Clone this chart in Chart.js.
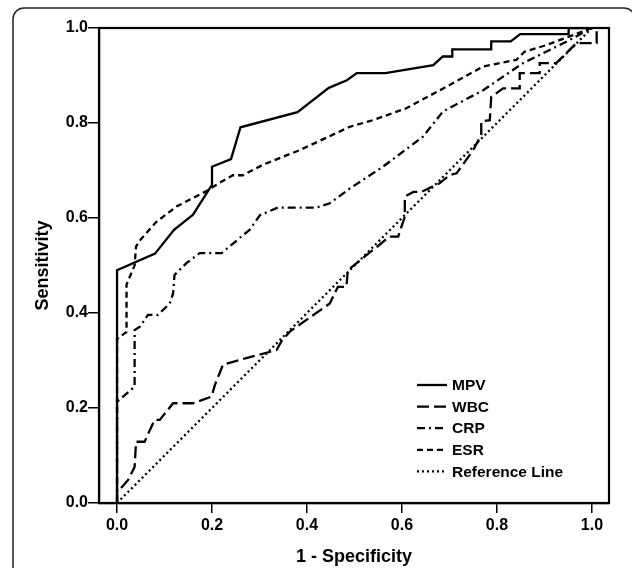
<!DOCTYPE html>
<html>
<head>
<meta charset="utf-8">
<title>ROC curves</title>
<script src="https://cdn.jsdelivr.net/npm/chart.js@4.4.1/dist/chart.umd.min.js"></script>
<style>
    html, body { margin: 0; padding: 0; background: #fff; }
    #wrap { width: 632px; height: 568px; position: relative; }
</style>
</head>
<body>
<div id="wrap"><canvas id="rocChart"></canvas></div>
<script>
// ROC points: x = 1 - specificity, y = sensitivity
const mpvFpr  = [0, 0, 0.08, 0.12, 0.16, 0.2, 0.2, 0.24, 0.26, 0.38, 0.446, 0.484, 0.505, 0.565, 0.666, 0.686, 0.706, 0.706, 0.788, 0.788, 0.829, 0.849, 0.951, 0.951, 1];
const mpvSens = [0, 0.49, 0.525, 0.575, 0.607, 0.67, 0.708, 0.724, 0.791, 0.823, 0.874, 0.89, 0.905, 0.905, 0.922, 0.94, 0.94, 0.955, 0.955, 0.972, 0.972, 0.987, 0.987, 1, 1];

const wbcFpr  = [0, 0, 0.006, 0.023, 0.037, 0.04, 0.058, 0.079, 0.09, 0.118, 0.16, 0.199, 0.206, 0.223, 0.272, 0.336, 0.346, 0.364, 0.448, 0.465, 0.483, 0.486, 0.574, 0.592, 0.606, 0.606, 0.624, 0.641, 0.679, 0.7, 0.715, 0.75, 0.767, 0.767, 0.785, 0.788, 0.813, 0.848, 0.848, 0.89, 0.89, 0.925, 0.953, 0.967, 1.01, 1.01, 1];
const wbcSens = [0, 0.025, 0.029, 0.048, 0.076, 0.129, 0.129, 0.175, 0.175, 0.21, 0.21, 0.224, 0.248, 0.291, 0.305, 0.322, 0.34, 0.361, 0.42, 0.455, 0.455, 0.49, 0.561, 0.561, 0.603, 0.645, 0.655, 0.655, 0.673, 0.69, 0.694, 0.743, 0.775, 0.803, 0.806, 0.855, 0.873, 0.873, 0.905, 0.905, 0.926, 0.926, 0.954, 0.968, 0.968, 0.995, 1];

const crpFpr  = [0, 0, 0.037, 0.037, 0.048, 0.065, 0.086, 0.111, 0.118, 0.121, 0.146, 0.174, 0.22, 0.279, 0.301, 0.339, 0.42, 0.448, 0.49, 0.56, 0.644, 0.672, 0.686, 0.771, 0.855, 0.946, 1];
const crpSens = [0, 0.213, 0.245, 0.364, 0.371, 0.396, 0.396, 0.42, 0.441, 0.48, 0.505, 0.526, 0.526, 0.575, 0.606, 0.622, 0.622, 0.631, 0.662, 0.708, 0.771, 0.806, 0.824, 0.869, 0.926, 0.971, 1];

const esrFpr  = [0, 0, 0.02, 0.02, 0.037, 0.04, 0.05, 0.083, 0.125, 0.185, 0.216, 0.244, 0.265, 0.307, 0.385, 0.49, 0.539, 0.609, 0.693, 0.771, 0.841, 0.858, 0.904, 0.96, 1];
const esrSens = [0, 0.345, 0.36, 0.46, 0.5, 0.54, 0.555, 0.592, 0.624, 0.655, 0.674, 0.69, 0.69, 0.712, 0.743, 0.792, 0.806, 0.831, 0.876, 0.919, 0.933, 0.95, 0.964, 0.985, 1];

const refFpr  = [0, 1];
const refSens = [0, 1];

const seriesLabels = ['MPV', 'WBC', 'CRP', 'ESR', 'Reference Line'];
const tickValues = [0, 0.2, 0.4, 0.6, 0.8, 1.0];

// Helper: zip x and y arrays into {x, y} points
function toPoints(xs, ys) {
    return xs.map((x, i) => ({ x: x, y: ys[i] }));
}

const FONT = '"Liberation Sans", Arial, sans-serif';
Chart.defaults.font.family = FONT;
Chart.defaults.color = '#000';

function lineSet(label, xs, ys, dash) {
    return {
        label: label,
        data: toPoints(xs, ys),
        showLine: true,
        borderColor: '#000',
        borderWidth: 2.3,
        borderDash: dash,
        pointRadius: 0,
        tension: 0,
        fill: false
    };
}

// Box round the plot area, plus the rounded figure frame
const framePlugin = {
    id: 'frame',
    afterDraw(chart) {
        const ctx = chart.ctx;
        const a = chart.chartArea;
        ctx.save();
        ctx.strokeStyle = '#000';
        ctx.lineWidth = 2.2;
        ctx.setLineDash([]);
        ctx.strokeRect(a.left, a.top, a.right - a.left, a.bottom - a.top);

        ctx.strokeStyle = '#222';
        ctx.lineWidth = 1.5;
        ctx.beginPath();
        ctx.roundRect(13, 8, 622, 600, 11);
        ctx.stroke();
        ctx.restore();
    }
};

// Legend drawn inside the plot, lower right
const legendPlugin = {
    id: 'innerLegend',
    afterDatasetsDraw(chart) {
        const ctx = chart.ctx;
        const lineX = 417, lineLen = 30, textX = 452;
        const firstY = 386, rowGap = 21.6;
        ctx.save();
        ctx.font = 'bold 15.5px ' + FONT;
        ctx.textBaseline = 'middle';
        ctx.fillStyle = '#000';
        chart.data.datasets.forEach((ds, i) => {
            const y = firstY + i * rowGap;
            ctx.strokeStyle = '#000';
            ctx.lineWidth = 2.3;
            ctx.setLineDash(ds.borderDash || []);
            ctx.beginPath();
            ctx.moveTo(lineX, y - 1);
            ctx.lineTo(lineX + lineLen, y - 1);
            ctx.stroke();
            ctx.fillText(ds.label, textX, y);
        });
        ctx.restore();
    }
};

const ctx = document.getElementById('rocChart').getContext('2d');
new Chart(ctx, {
    type: 'scatter',
    data: {
        datasets: [
            lineSet(seriesLabels[0], mpvFpr, mpvSens, []),
            lineSet(seriesLabels[1], wbcFpr, wbcSens, [12, 5]),
            lineSet(seriesLabels[2], crpFpr, crpSens, [8, 4, 2, 4]),
            lineSet(seriesLabels[3], esrFpr, esrSens, [6, 4]),
            lineSet(seriesLabels[4], refFpr, refSens, [2, 3])
        ]
    },
    options: {
        responsive: true,
        maintainAspectRatio: false,
        animation: false,
        layout: { padding: { left: 32, top: 28, right: 23, bottom: 0 } },
        plugins: {
            legend: { display: false },
            tooltip: { enabled: false }
        },
        scales: {
            x: {
                type: 'linear',
                position: 'bottom',
                min: -0.038,
                max: 1.036,
                afterBuildTicks: (scale) => { scale.ticks = tickValues.map(v => ({ value: v })); },
                afterFit: (scale) => { scale.height = 65; },
                ticks: {
                    padding: 3,
                    font: { size: 16, weight: 'bold' },
                    color: '#000',
                    maxRotation: 0,
                    callback: (v) => Number(v).toFixed(1)
                },
                grid: { display: true, drawOnChartArea: false, drawTicks: true, tickLength: 10, color: '#000', lineWidth: 1.5 },
                border: { display: true, color: '#000', width: 2.2 },
                title: {
                    display: true,
                    text: '1 - Specificity',
                    font: { size: 18, weight: 'bold' },
                    color: '#000',
                    padding: { top: 0, bottom: 0 }
                }
            },
            y: {
                type: 'linear',
                min: 0,
                max: 1,
                afterBuildTicks: (scale) => { scale.ticks = tickValues.map(v => ({ value: v })); },
                afterFit: (scale) => { scale.width = 67; },
                ticks: {
                    padding: 0,
                    font: { size: 16, weight: 'bold' },
                    color: '#000',
                    callback: (v) => Number(v).toFixed(1)
                },
                grid: { display: true, drawOnChartArea: false, drawTicks: true, tickLength: 11, color: '#000', lineWidth: 1.5 },
                border: { display: true, color: '#000', width: 2.2 },
                title: {
                    display: true,
                    text: 'Sensitivity',
                    font: { size: 18, weight: 'bold' },
                    color: '#000',
                    padding: { top: 0, bottom: 0 }
                }
            }
        }
    },
    plugins: [framePlugin, legendPlugin]
});
</script>
</body>
</html>
